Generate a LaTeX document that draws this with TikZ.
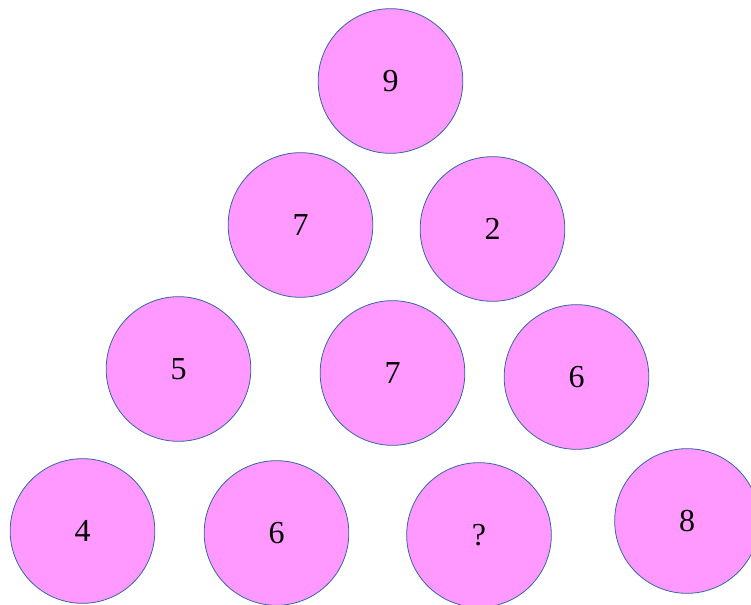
\documentclass[tikz,border=0pt]{standalone}
\usepackage{fontspec}
\setmainfont{Liberation Serif}
\definecolor{ballpink}{HTML}{FF99FF}
\definecolor{ballblue}{HTML}{3465A4}
\tikzset{ball/.style={circle,fill=ballpink,draw=ballblue,line width=0.6pt,minimum size=108.5pt,inner sep=0pt,font=\fontsize{24}{28}\selectfont}}
\begin{document}
\begin{tikzpicture}[x=0.75pt,y=-0.75pt]
    \useasboundingbox (0,0) rectangle (751,605);
    \node[ball] (R1) at (390.5,81) {9};
    \node[ball] (R2a) at (300.5,225) {7};
    \node[ball] (R2b) at (492.5,229) {2};
    \node[ball] (R3a) at (178.5,369) {5};
    \node[ball] (R3b) at (392.5,373) {7};
    \node[ball] (R3c) at (576.5,377) {6};
    \node[ball] (R4a) at (82.5,531) {4};
    \node[ball] (R4b) at (276.5,533) {6};
    \node[ball] (R4c) at (479,535) {?};
    \node[ball] (R4d) at (687,521) {8};
\end{tikzpicture}
\end{document}
